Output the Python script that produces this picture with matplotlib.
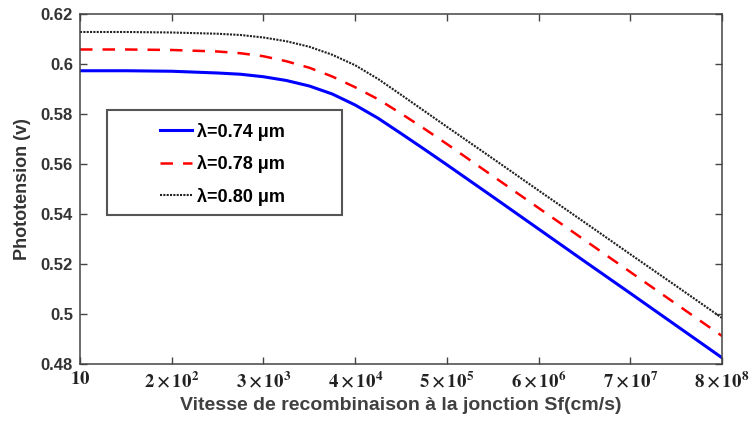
import matplotlib
matplotlib.use("Agg")
import matplotlib.pyplot as plt
from matplotlib.patches import Rectangle

# positions of the 8 labelled Sf values (evenly spaced on the original axis)
pos = [1, 1.5, 2, 2.5, 2.75, 3, 3.25, 3.5, 3.75, 4, 4.25, 4.5, 4.75,
       5, 5.5, 6, 6.5, 7, 7.5, 8]
v_074 = [0.5973, 0.5973, 0.5971, 0.5964, 0.5959, 0.5949, 0.5934, 0.5912,
         0.5880, 0.5836, 0.5783, 0.5722, 0.5660, 0.5597, 0.5469, 0.5340,
         0.5211, 0.5083, 0.4954, 0.4825]
v_078 = [0.6058, 0.6058, 0.6056, 0.6050, 0.6043, 0.6031, 0.6011, 0.5985,
         0.5950, 0.5907, 0.5859, 0.5802, 0.5742, 0.5680, 0.5552, 0.5424,
         0.5296, 0.5168, 0.5040, 0.4912]
v_080 = [0.6128, 0.6128, 0.6126, 0.6121, 0.6116, 0.6106, 0.6091, 0.6069,
         0.6037, 0.5995, 0.5940, 0.5877, 0.5813, 0.5749, 0.5622, 0.5494,
         0.5367, 0.5239, 0.5112, 0.4984]

xtick_pos = [1, 2, 3, 4, 5, 6, 7, 8]
xtick_lab = [r'$\mathbf{10}$', r'$\mathbf{2\times10^{2}}$', r'$\mathbf{3\times10^{3}}$',
             r'$\mathbf{4\times10^{4}}$', r'$\mathbf{5\times10^{5}}$', r'$\mathbf{6\times10^{6}}$',
             r'$\mathbf{7\times10^{7}}$', r'$\mathbf{8\times10^{8}}$']
ytick_pos = [0.48, 0.50, 0.52, 0.54, 0.56, 0.58, 0.60, 0.62]
ytick_lab = ['0.48', '0.5', '0.52', '0.54', '0.56', '0.58', '0.6', '0.62']

plt.rcParams['mathtext.fontset'] = 'stix'
plt.rcParams['font.family'] = ['Liberation Sans', 'DejaVu Sans']

fig = plt.figure(figsize=(7.5, 4.24), dpi=100)
ax = fig.add_axes([0.1067, 0.1415, 0.856, 0.8255])

ax.plot(pos, v_074, color='#0000ff', lw=2.2, label='λ=0.74 μm')
ax.plot(pos, v_078, color='#ff0000', lw=1.8, ls=(0, (5, 4)), label='λ=0.78 μm')
ax.plot(pos, v_080, color='#222222', lw=1.5, ls=(0, (1, 0.6)), label='λ=0.80 μm')

ax.set_xlim(1, 8)
ax.set_ylim(0.48, 0.62)
ax.set_xticks(xtick_pos)
ax.set_xticklabels(xtick_lab, fontsize=13.5)
ax.set_yticks(ytick_pos)
ax.set_yticklabels(ytick_lab, fontsize=12, fontweight='bold')
ax.tick_params(direction='in', length=5, width=1, top=True, right=True,
               colors='#444444', pad=5)
for lab in ax.get_xticklabels():
    lab.set_color('#222222')
for lab in ax.get_yticklabels():
    lab.set_color('#333333')
for sp in ax.spines.values():
    sp.set_color('#444444')
    sp.set_linewidth(1.1)

ax.set_xlabel('Vitesse de recombinaison à la jonction Sf(cm/s)', fontsize=14,
              fontweight='bold', color='#404040', labelpad=4)
ax.set_ylabel('Phototension (v)', fontsize=13, fontweight='bold',
              color='#333333', labelpad=7)

box = Rectangle((0.042, 0.426), 0.366, 0.30, transform=ax.transAxes,
                facecolor='white', edgecolor='#555555', lw=1.5, zorder=4)
ax.add_patch(box)
leg = ax.legend(loc='center', bbox_to_anchor=(0.2215, 0.571), frameon=False,
                prop={'weight': 'bold', 'size': 13}, handlelength=1.8,
                handletextpad=0.25, labelspacing=0.8)
leg.set_zorder(5)

fig.savefig('out.png', dpi=100)
